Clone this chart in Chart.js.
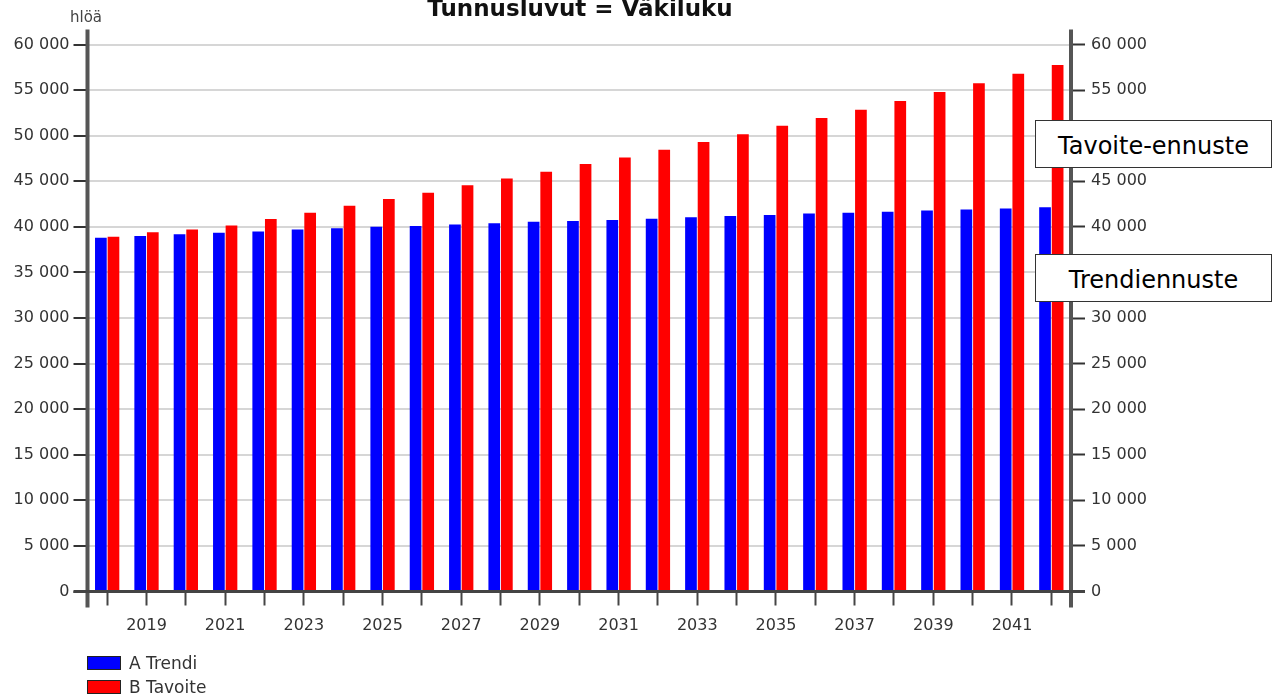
<!DOCTYPE html>
<html>
<head>
<meta charset="utf-8">
<script src="https://cdn.jsdelivr.net/npm/chart.js@4/dist/chart.umd.min.js"></script>
<style>
  html, body { margin: 0; padding: 0; background: #fff; }
  #wrap { position: relative; width: 1281px; height: 699px; overflow: hidden; }
  #c { position: absolute; left: 0; top: 0; }
  .txt { position: absolute; font-family: "DejaVu Sans", sans-serif; white-space: nowrap; }
  #title { left: 0; width: 1160px; text-align: center; top: -6px; font-size: 23px; font-weight: bold; color: #111; line-height: 28px; }
  #unit { left: 70px; top: 7px; font-size: 15px; color: #444; line-height: 20px; }
  .lg { position: absolute; left: 87px; width: 32px; height: 12px; border: 1px solid #222; }
  .lgt { position: absolute; left: 129px; font-size: 17px; color: #333; line-height: 20px; }
  .box { position: absolute; left: 1035px; width: 235px; height: 46px; border: 1.5px solid #333; background: #fff;
         font-family: "DejaVu Sans", sans-serif; font-size: 24px; color: #000; text-align: center; line-height: 50px; }
</style>
</head>
<body>
<div id="wrap">
  <canvas id="c" width="1281" height="699"></canvas>
  <div id="title" class="txt">Tunnusluvut = Väkiluku</div>
  <div id="unit" class="txt">hlöä</div>
  <div class="lg" style="top:656px;background:#0000ff"></div>
  <div class="txt lgt" style="top:653px">A Trendi</div>
  <div class="lg" style="top:680px;background:#ff0000"></div>
  <div class="txt lgt" style="top:677px">B Tavoite</div>
  <div class="box" style="top:120px">Tavoite-ennuste</div>
  <div class="box" style="top:254px">Trendiennuste</div>
</div>
<script>
const years = ["2018","2019","2020","2021","2022","2023","2024","2025","2026","2027","2028","2029","2030","2031","2032","2033","2034","2035","2036","2037","2038","2039","2040","2041","2042"];
const trendValues = [38800, 39000, 39200, 39350, 39500, 39700, 39850, 40000, 40100, 40250, 40400, 40550, 40650, 40750, 40900, 41050, 41200, 41300, 41450, 41550, 41650, 41800, 41900, 42000, 42150];
const targetValues = [38900, 39400, 39700, 40150, 40850, 41550, 42300, 43050, 43750, 44550, 45300, 46050, 46900, 47600, 48450, 49300, 50150, 51100, 51950, 52850, 53800, 54800, 55750, 56800, 57750];
const seriesNames = ["A Trendi", "B Tavoite"];
const yMin = 0, yMax = 60000, yStep = 5000;

const fmt = v => String(v).replace(/\B(?=(\d{3})+(?!\d))/g, ' ');

const axisPlugin = {
  id: 'axisLines',
  afterDatasetsDraw(chart) {
    const ctx = chart.ctx, a = chart.chartArea;
    ctx.save();
    ctx.strokeStyle = '#555';
    ctx.lineWidth = 4;
    ctx.beginPath();
    ctx.moveTo(a.left, a.top - 15); ctx.lineTo(a.left, a.bottom + 16);
    ctx.moveTo(a.right, a.top - 15); ctx.lineTo(a.right, a.bottom + 16);
    ctx.stroke();
    ctx.lineWidth = 3;
    ctx.strokeStyle = '#444';
    ctx.beginPath();
    ctx.moveTo(a.left - 14, a.bottom); ctx.lineTo(a.right + 14, a.bottom);
    ctx.stroke();
    ctx.restore();
  }
};

const tickFont = { family: "DejaVu Sans", size: 16 };

new Chart(document.getElementById('c'), {
  type: 'bar',
  data: {
    labels: years,
    datasets: [
      { label: seriesNames[0], data: trendValues, backgroundColor: '#0000ff', yAxisID: 'y' },
      { label: seriesNames[1], data: targetValues, backgroundColor: '#ff0000', yAxisID: 'y' }
    ]
  },
  options: {
    responsive: false,
    animation: false,
    devicePixelRatio: 1,
    categoryPercentage: 0.64,
    barPercentage: 0.93,
    layout: { padding: { top: 44.5, bottom: 0, left: 0, right: 0 } },
    plugins: { legend: { display: false }, title: { display: false }, tooltip: { enabled: false } },
    scales: {
      x: {
        offset: true,
        grid: { display: true, drawOnChartArea: false, drawTicks: true, tickLength: 14, tickWidth: 2, tickColor: '#444', offset: false },
        border: { display: false },
        ticks: {
          autoSkip: false, maxRotation: 0, minRotation: 0, padding: 11,
          color: '#333', font: tickFont,
          callback: function(val, idx) { const l = this.getLabelForValue(val); return (parseInt(l) % 2 === 1) ? l : ''; }
        },
        afterFit(s) { s.height = 699 - 591.5; }
      },
      y: {
        position: 'left', min: yMin, max: yMax,
        grid: { color: '#d6d6d6', lineWidth: 2, drawTicks: true, tickLength: 14, tickWidth: 2, tickColor: '#333' },
        border: { display: false },
        ticks: { stepSize: yStep, padding: 4, color: '#333', font: tickFont, callback: v => fmt(v) },
        afterFit(s) { s.width = 87.5; }
      },
      y2: {
        position: 'right', min: yMin, max: yMax,
        grid: { drawOnChartArea: false, drawTicks: true, tickLength: 14, tickWidth: 2, tickColor: '#333' },
        border: { display: false },
        ticks: { stepSize: yStep, padding: 6, color: '#333', font: tickFont, callback: v => fmt(v) },
        afterFit(s) { s.width = 1281 - 1071; }
      }
    }
  },
  plugins: [axisPlugin]
});
</script>
</body>
</html>
